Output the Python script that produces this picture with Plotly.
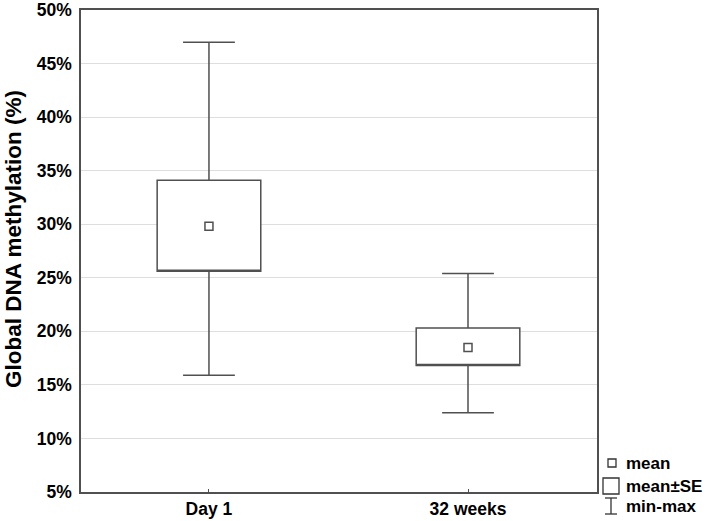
import plotly.graph_objects as go

# values (% methylation)
groups = ["Day 1", "32 weeks"]
means = [29.8, 18.5]
se_low = [25.6, 16.8]
se_high = [34.1, 20.3]
mins = [15.9, 12.4]
maxs = [47.0, 25.4]

y_ticks = [5, 10, 15, 20, 25, 30, 35, 40, 45, 50]
legend_labels = ["mean", "mean±SE", "min-max"]

line_col = "#505050"
font_family = "Liberation Sans, Arial, sans-serif"

W, H = 708, 521
L, T, R, B = 81, 10, 708 - 597, 521 - 492
PW, PH = W - L - R, H - T - B


def px_x(x):
    return (x - L) / PW


def px_y(y):
    return (T + PH - y) / PH


fig = go.Figure()

# box: mean±SE, whiskers: min-max (median put on the lower edge so it's hidden)
fig.add_trace(go.Box(
    x=groups,
    q1=se_low,
    median=se_low,
    q3=se_high,
    lowerfence=mins,
    upperfence=maxs,
    width=0.4,
    whiskerwidth=0.5,
    fillcolor="white",
    line=dict(color=line_col, width=1.5),
    hoverinfo="skip",
    showlegend=False,
))

fig.add_trace(go.Scatter(
    x=groups,
    y=means,
    mode="markers",
    marker=dict(symbol="square-open", size=8,
                color=line_col, line=dict(width=1.5, color=line_col)),
    showlegend=False,
))

# hand-made legend at the lower right
shapes = []
shapes.append(dict(type="rect", xref="paper", yref="paper",
                   x0=px_x(608), x1=px_x(616), y0=px_y(467), y1=px_y(459),
                   line=dict(color="#333", width=1.3), fillcolor="white"))
shapes.append(dict(type="rect", xref="paper", yref="paper",
                   x0=px_x(603), x1=px_x(619), y0=px_y(494), y1=px_y(478),
                   line=dict(color="#333", width=1.3), fillcolor="white"))
for y0, y1, x0, x1 in [(498, 498, 605, 617), (514, 514, 605, 617), (498, 514, 611, 611)]:
    shapes.append(dict(type="line", xref="paper", yref="paper",
                       x0=px_x(x0), x1=px_x(x1), y0=px_y(y0), y1=px_y(y1),
                       line=dict(color="#333", width=1.3)))

annotations = []
for lab, yc in zip(legend_labels, [463, 486, 507]):
    annotations.append(dict(text="<b>" + lab + "</b>", xref="paper", yref="paper",
                            x=px_x(624), y=px_y(yc), xanchor="left", yanchor="middle",
                            showarrow=False, font=dict(size=17, color="black",
                                                       family=font_family)))

# y axis title as an annotation so it can sit where the original has it
annotations.append(dict(text="<b>Global DNA methylation (%)</b>", xref="paper", yref="paper",
                        x=px_x(13), y=px_y(239), textangle=-90,
                        xanchor="center", yanchor="middle", showarrow=False,
                        font=dict(size=22.5, color="black", family=font_family)))

fig.update_layout(
    width=W,
    height=H,
    margin=dict(l=L, r=R, t=T, b=B),
    plot_bgcolor="white",
    paper_bgcolor="white",
    font=dict(family=font_family, color="black"),
    shapes=shapes,
    annotations=annotations,
    showlegend=False,
)

fig.update_xaxes(
    range=[-0.494, 1.498],
    tickvals=groups,
    ticktext=["<b>" + g + "</b>" for g in groups],
    tickfont=dict(size=17.5),
    ticks="inside",
    ticklen=3,
    tickcolor=line_col,
    showline=True,
    linecolor=line_col,
    linewidth=1.5,
    mirror=True,
    showgrid=False,
    automargin=False,
)

fig.update_yaxes(
    range=[5, 50],
    tickvals=y_ticks,
    ticktext=["<b>%d%%</b>" % v for v in y_ticks],
    tickfont=dict(size=17.5),
    ticklabelstandoff=4,
    showline=True,
    linecolor=line_col,
    linewidth=1.5,
    mirror=True,
    showgrid=True,
    gridcolor="#dedede",
    gridwidth=1,
    zeroline=False,
    ticks="",
    automargin=False,
)

# drop the default 8px body margin so the figure fills the window exactly
fig.write_html("out.html", config={"displayModeBar": False},
               post_script="document.body.style.margin='0';")
